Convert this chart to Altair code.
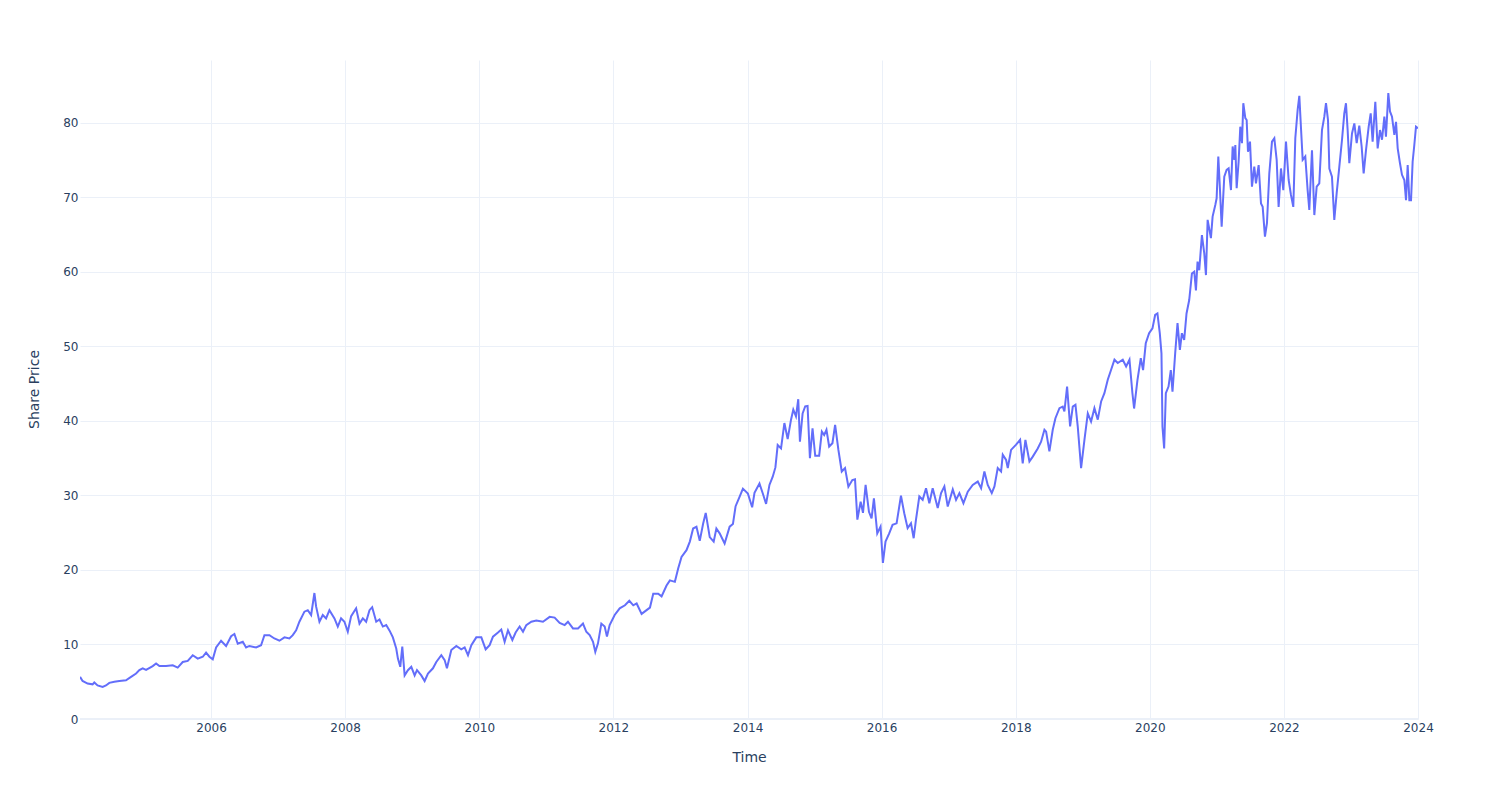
import altair as alt
import pandas as pd

# Time as decimal years and the share price at that time
t_year = [
    2004.047, 2004.085, 2004.159, 2004.234, 2004.259, 2004.308, 2004.383, 2004.433, 2004.483, 2004.557,
    2004.632, 2004.731, 2004.806, 2004.881, 2004.930, 2004.980, 2005.030, 2005.129, 2005.179, 2005.229,
    2005.328, 2005.428, 2005.502, 2005.577, 2005.652, 2005.726, 2005.801, 2005.876, 2005.925, 2005.975,
    2006.025, 2006.075, 2006.149, 2006.224, 2006.299, 2006.348, 2006.398, 2006.473, 2006.522, 2006.572,
    2006.672, 2006.746, 2006.796, 2006.871, 2006.945, 2007.020, 2007.095, 2007.169, 2007.219, 2007.269,
    2007.318, 2007.393, 2007.443, 2007.493, 2007.542, 2007.567, 2007.617, 2007.667, 2007.716, 2007.766,
    2007.841, 2007.891, 2007.940, 2007.990, 2008.040, 2008.090, 2008.164,
    2008.214, 2008.264, 2008.313, 2008.363, 2008.403, 2008.463, 2008.512, 2008.562, 2008.612, 2008.662,
    2008.711, 2008.761, 2008.786, 2008.821, 2008.851, 2008.886, 2008.935, 2008.985, 2009.035, 2009.070,
    2009.134, 2009.184, 2009.234, 2009.308, 2009.358, 2009.433, 2009.483, 2009.517, 2009.582, 2009.657,
    2009.731, 2009.781, 2009.831, 2009.881, 2009.955, 2010.030, 2010.095, 2010.154, 2010.204, 2010.279,
    2010.328, 2010.378, 2010.428, 2010.493, 2010.542, 2010.602, 2010.652, 2010.701, 2010.776, 2010.851,
    2010.950, 2011.050, 2011.124, 2011.199, 2011.274, 2011.323, 2011.398, 2011.473, 2011.547, 2011.597,
    2011.647, 2011.697, 2011.731, 2011.771, 2011.821, 2011.871, 2011.905, 2011.945, 2012.020, 2012.095,
    2012.173, 2012.238, 2012.297, 2012.347, 2012.421, 2012.495, 2012.545, 2012.594, 2012.668, 2012.718,
    2012.792, 2012.842, 2012.916, 2012.965, 2013.015, 2013.089, 2013.139, 2013.188, 2013.238, 2013.287,
    2013.337, 2013.376, 2013.436, 2013.495, 2013.535, 2013.584, 2013.658, 2013.733, 2013.782, 2013.822,
    2013.881, 2013.931, 2014.005, 2014.069, 2014.104, 2014.178, 2014.228, 2014.277, 2014.327, 2014.376,
    2014.416, 2014.450, 2014.500, 2014.550, 2014.599, 2014.649, 2014.683, 2014.723, 2014.757, 2014.782,
    2014.822, 2014.861, 2014.896, 2014.931, 2014.970, 2015.010, 2015.069, 2015.109, 2015.144, 2015.178,
    2015.218, 2015.267, 2015.307, 2015.356, 2015.406, 2015.455, 2015.505, 2015.564, 2015.604, 2015.639,
    2015.688, 2015.723, 2015.762, 2015.812, 2015.851, 2015.886, 2015.936, 2015.985, 2016.020, 2016.059,
    2016.114, 2016.164, 2016.224, 2016.289, 2016.338, 2016.388, 2016.438, 2016.478, 2016.512, 2016.562,
    2016.612, 2016.662, 2016.711, 2016.761, 2016.836, 2016.886, 2016.935, 2016.985, 2017.060, 2017.109,
    2017.159, 2017.219, 2017.284, 2017.358, 2017.433, 2017.483, 2017.532, 2017.582, 2017.642, 2017.682,
    2017.731, 2017.781, 2017.806, 2017.856, 2017.881, 2017.930, 2018.005, 2018.065, 2018.104, 2018.144,
    2018.204, 2018.254, 2018.328, 2018.378, 2018.428, 2018.453, 2018.502, 2018.552, 2018.592, 2018.652,
    2018.701, 2018.726, 2018.766, 2018.811, 2018.851, 2018.891, 2018.925, 2018.975, 2019.025, 2019.075,
    2019.124, 2019.174, 2019.224, 2019.274, 2019.323, 2019.373, 2019.423, 2019.473, 2019.522, 2019.597,
    2019.647, 2019.697, 2019.741, 2019.766, 2019.816, 2019.866, 2019.900, 2019.940, 2019.990, 2020.040,
    2020.080, 2020.114, 2020.149, 2020.174, 2020.189, 2020.214, 2020.239, 2020.279, 2020.313, 2020.338,
    2020.378, 2020.413, 2020.448, 2020.478, 2020.512, 2020.547, 2020.587, 2020.627, 2020.662, 2020.687,
    2020.711, 2020.736, 2020.776, 2020.811, 2020.836, 2020.861, 2020.910, 2020.935, 2020.975, 2020.995,
    2021.020, 2021.045, 2021.070, 2021.109, 2021.144, 2021.174, 2021.209, 2021.234, 2021.259, 2021.274,
    2021.294, 2021.323, 2021.348, 2021.373, 2021.393, 2021.423, 2021.443, 2021.463, 2021.493, 2021.522,
    2021.557, 2021.582, 2021.622, 2021.657, 2021.682, 2021.716, 2021.746, 2021.781, 2021.821, 2021.856,
    2021.891, 2021.920, 2021.955, 2021.990, 2022.030, 2022.070, 2022.104, 2022.139, 2022.169, 2022.204,
    2022.229, 2022.254, 2022.279, 2022.318, 2022.353, 2022.378, 2022.418, 2022.453, 2022.488, 2022.527,
    2022.567, 2022.602, 2022.627, 2022.657, 2022.677, 2022.716, 2022.751, 2022.786, 2022.826, 2022.866,
    2022.900, 2022.925, 2022.950, 2022.975, 2023.015, 2023.050, 2023.085, 2023.124, 2023.159, 2023.189,
    2023.224, 2023.264, 2023.294, 2023.323, 2023.363, 2023.398, 2023.433, 2023.463, 2023.498, 2023.522,
    2023.557, 2023.582, 2023.612, 2023.647, 2023.672, 2023.697, 2023.731, 2023.761, 2023.796, 2023.821,
    2023.846, 2023.871, 2023.896, 2023.920, 2023.945, 2023.970, 2024.000,
]

price = [
    5.65, 5.1, 4.75, 4.65, 4.9, 4.5, 4.3, 4.5, 4.85, 5.0,
    5.1, 5.2, 5.65, 6.1, 6.55, 6.8, 6.6, 7.1, 7.45, 7.1,
    7.1, 7.2, 6.9, 7.65, 7.8, 8.55, 8.1, 8.35, 8.9, 8.35,
    8.0, 9.6, 10.5, 9.8, 11.1, 11.4, 10.1, 10.35, 9.6, 9.8,
    9.6, 9.9, 11.25, 11.25, 10.8, 10.5, 10.95, 10.8, 11.25, 11.9,
    13.05, 14.4, 14.6, 13.95, 16.9, 15.1, 13.05, 13.95, 13.5, 14.6,
    13.5, 12.4, 13.5, 13.05, 11.7, 13.8, 14.85,
    12.8, 13.5, 13.05, 14.6, 15.0, 13.05, 13.35, 12.4, 12.6, 11.85,
    10.95, 9.45, 8.1, 7.0, 9.7, 5.85, 6.55, 7.0, 5.85, 6.55,
    5.85, 5.1, 6.1, 6.8, 7.65, 8.55, 7.9, 6.8, 9.25, 9.8,
    9.35, 9.6, 8.55, 9.9, 10.95, 10.95, 9.35, 9.9, 11.05, 11.6,
    12.0, 10.35, 11.9, 10.6, 11.6, 12.4, 11.7, 12.6, 13.05, 13.2,
    13.05, 13.7, 13.6, 12.9, 12.6, 13.05, 12.15, 12.15, 12.8, 11.7,
    11.25, 10.35, 9.0, 10.15, 12.8, 12.4, 11.05, 12.6, 13.95, 14.85,
    15.25, 15.85, 15.25, 15.5, 14.1, 14.6, 14.95, 16.8, 16.8, 16.45,
    17.9, 18.6, 18.4, 20.2, 21.75, 22.65, 23.8, 25.55, 25.8, 23.9,
    26.2, 27.65, 24.4, 23.8, 25.55, 24.9, 23.55, 25.8, 26.15, 28.55,
    29.8, 30.9, 30.25, 28.4, 30.35, 31.6, 30.25, 28.85, 31.4, 32.5,
    33.75, 36.75, 36.3, 39.7, 37.55, 40.15, 41.5, 40.6, 42.9, 37.2,
    41.0, 41.95, 42.0, 35.0, 39.0, 35.3, 35.3, 38.55, 38.1, 38.8,
    36.55, 37.0, 39.45, 36.1, 33.2, 33.65, 31.15, 32.05, 32.15, 26.75,
    29.15, 27.65, 31.4, 27.8, 26.9, 29.6, 24.9, 25.8, 20.95, 23.8,
    24.9, 26.05, 26.25, 29.95, 27.6, 25.6, 26.25, 24.25, 26.7, 29.85,
    29.4, 30.95, 28.95, 30.95, 28.3, 30.3, 31.2, 28.5, 30.8, 29.4,
    30.3, 28.95, 30.5, 31.4, 31.85, 30.95, 33.2, 31.4, 30.3, 31.2,
    33.65, 33.2, 35.45, 34.75, 33.65, 36.1, 36.8, 37.45, 34.3, 37.45,
    34.55, 35.2, 36.3, 37.2, 38.8, 38.55, 35.9, 38.8, 40.35, 41.7,
    41.9, 41.25, 44.6, 39.25, 41.9, 42.15, 39.25, 33.65, 37.45, 41.0,
    39.9, 41.7, 40.15, 42.6, 43.7, 45.5, 46.85, 48.2, 47.75, 48.2,
    47.3, 48.2, 43.7, 41.65, 45.45, 48.4, 46.8, 50.4, 51.75, 52.4,
    54.2, 54.4, 51.75, 49.05, 39.2, 36.3, 43.7, 44.6, 46.8, 43.9,
    49.05, 53.1, 49.5, 51.75, 50.85, 54.4, 56.2, 59.75, 60.0, 57.5,
    61.35, 60.2, 64.9, 62.45, 59.55, 66.95, 64.5, 67.4, 68.95, 69.85,
    75.45, 70.95, 66.05, 72.75, 73.65, 73.85, 70.95, 76.8, 75.0, 77.0,
    71.2, 74.75, 79.45, 77.25, 82.6, 80.6, 80.35, 76.1, 77.45, 71.4,
    74.1, 71.85, 74.3, 69.15, 68.7, 64.7, 66.5, 73.2, 77.45, 77.9,
    75.0, 68.7, 73.85, 70.95, 77.45, 72.3, 70.3, 68.7, 77.9, 81.7,
    83.6, 79.25, 75.0, 75.45, 70.95, 68.3, 76.3, 67.6, 71.4, 71.85,
    79.0, 80.8, 82.6, 80.35, 73.85, 72.75, 66.95, 70.5, 74.1, 77.7,
    81.25, 82.6, 79.0, 74.55, 78.55, 79.9, 77.25, 79.6, 76.8, 73.2,
    76.3, 79.45, 81.25, 77.45, 82.8, 76.55, 79.0, 77.7, 80.8, 78.1,
    83.95, 81.5, 80.8, 78.35, 80.1, 76.55, 74.55, 73.0, 72.3, 69.6,
    74.3, 69.6, 69.6, 74.75, 77.0, 79.45, 79.25,
]

x_tick_years = [2006, 2008, 2010, 2012, 2014, 2016, 2018, 2020, 2022, 2024]
y_ticks = [0, 10, 20, 30, 40, 50, 60, 70, 80]


def to_timestamp(y):
    yr = int(y)
    start = pd.Timestamp(yr, 1, 1)
    end = pd.Timestamp(yr + 1, 1, 1)
    return start + (end - start) * (y - yr)


df = pd.DataFrame({"Time": [to_timestamp(v) for v in t_year], "price": price})
zero_df = pd.DataFrame({"zero": [0]})

FONT = "DejaVu Sans"
TEXT = "#2a3f5f"
GRID = "#EBF0F8"

x_scale = alt.Scale(domain=[alt.DateTime(year=2004, month=1, date=18),
                            alt.DateTime(year=2024, month=1, date=1)])
y_scale = alt.Scale(domain=[0, 88.4], nice=False, zero=False)

x_axis = alt.Axis(
    values=[alt.DateTime(year=y, month=1, date=1) for y in x_tick_years],
    format="%Y", grid=True, gridColor=GRID, gridWidth=1, domain=False, ticks=False,
    labelPadding=3, labelFont=FONT, labelFontSize=12, labelColor=TEXT, labelFlush=False,
    title="Time", titleFont=FONT, titleFontSize=14, titleColor=TEXT, titleFontWeight="normal",
    titleY=38, titleBaseline="middle",
)
y_axis = alt.Axis(
    values=y_ticks, grid=True, gridColor=GRID, gridWidth=1, domain=False, ticks=False,
    labelPadding=2, labelFont=FONT, labelFontSize=12, labelColor=TEXT,
    title="Share Price", titleFont=FONT, titleFontSize=14, titleColor=TEXT, titleFontWeight="normal",
    titleX=-46, titleY=329, titleBaseline="middle", titleAlign="center", titleAngle=270,
)

zero_line = alt.Chart(zero_df).mark_rule(color=GRID, strokeWidth=2).encode(
    y=alt.Y("zero:Q", scale=y_scale, axis=y_axis)
)

line = alt.Chart(df).mark_line(color="#636efa", strokeWidth=2, clip=True).encode(
    x=alt.X("Time:T", scale=x_scale, axis=x_axis),
    y=alt.Y("price:Q", scale=y_scale, axis=y_axis),
)

chart = alt.layer(zero_line, line).properties(
    width=1338, height=659,
    autosize=alt.AutoSizeParams(type="none"),
    padding={"left": 80, "top": 60, "right": 82, "bottom": 81},
    background="white",
).configure_view(stroke=None)

chart.save("out.html", embed_options={"renderer": "svg", "actions": False})
